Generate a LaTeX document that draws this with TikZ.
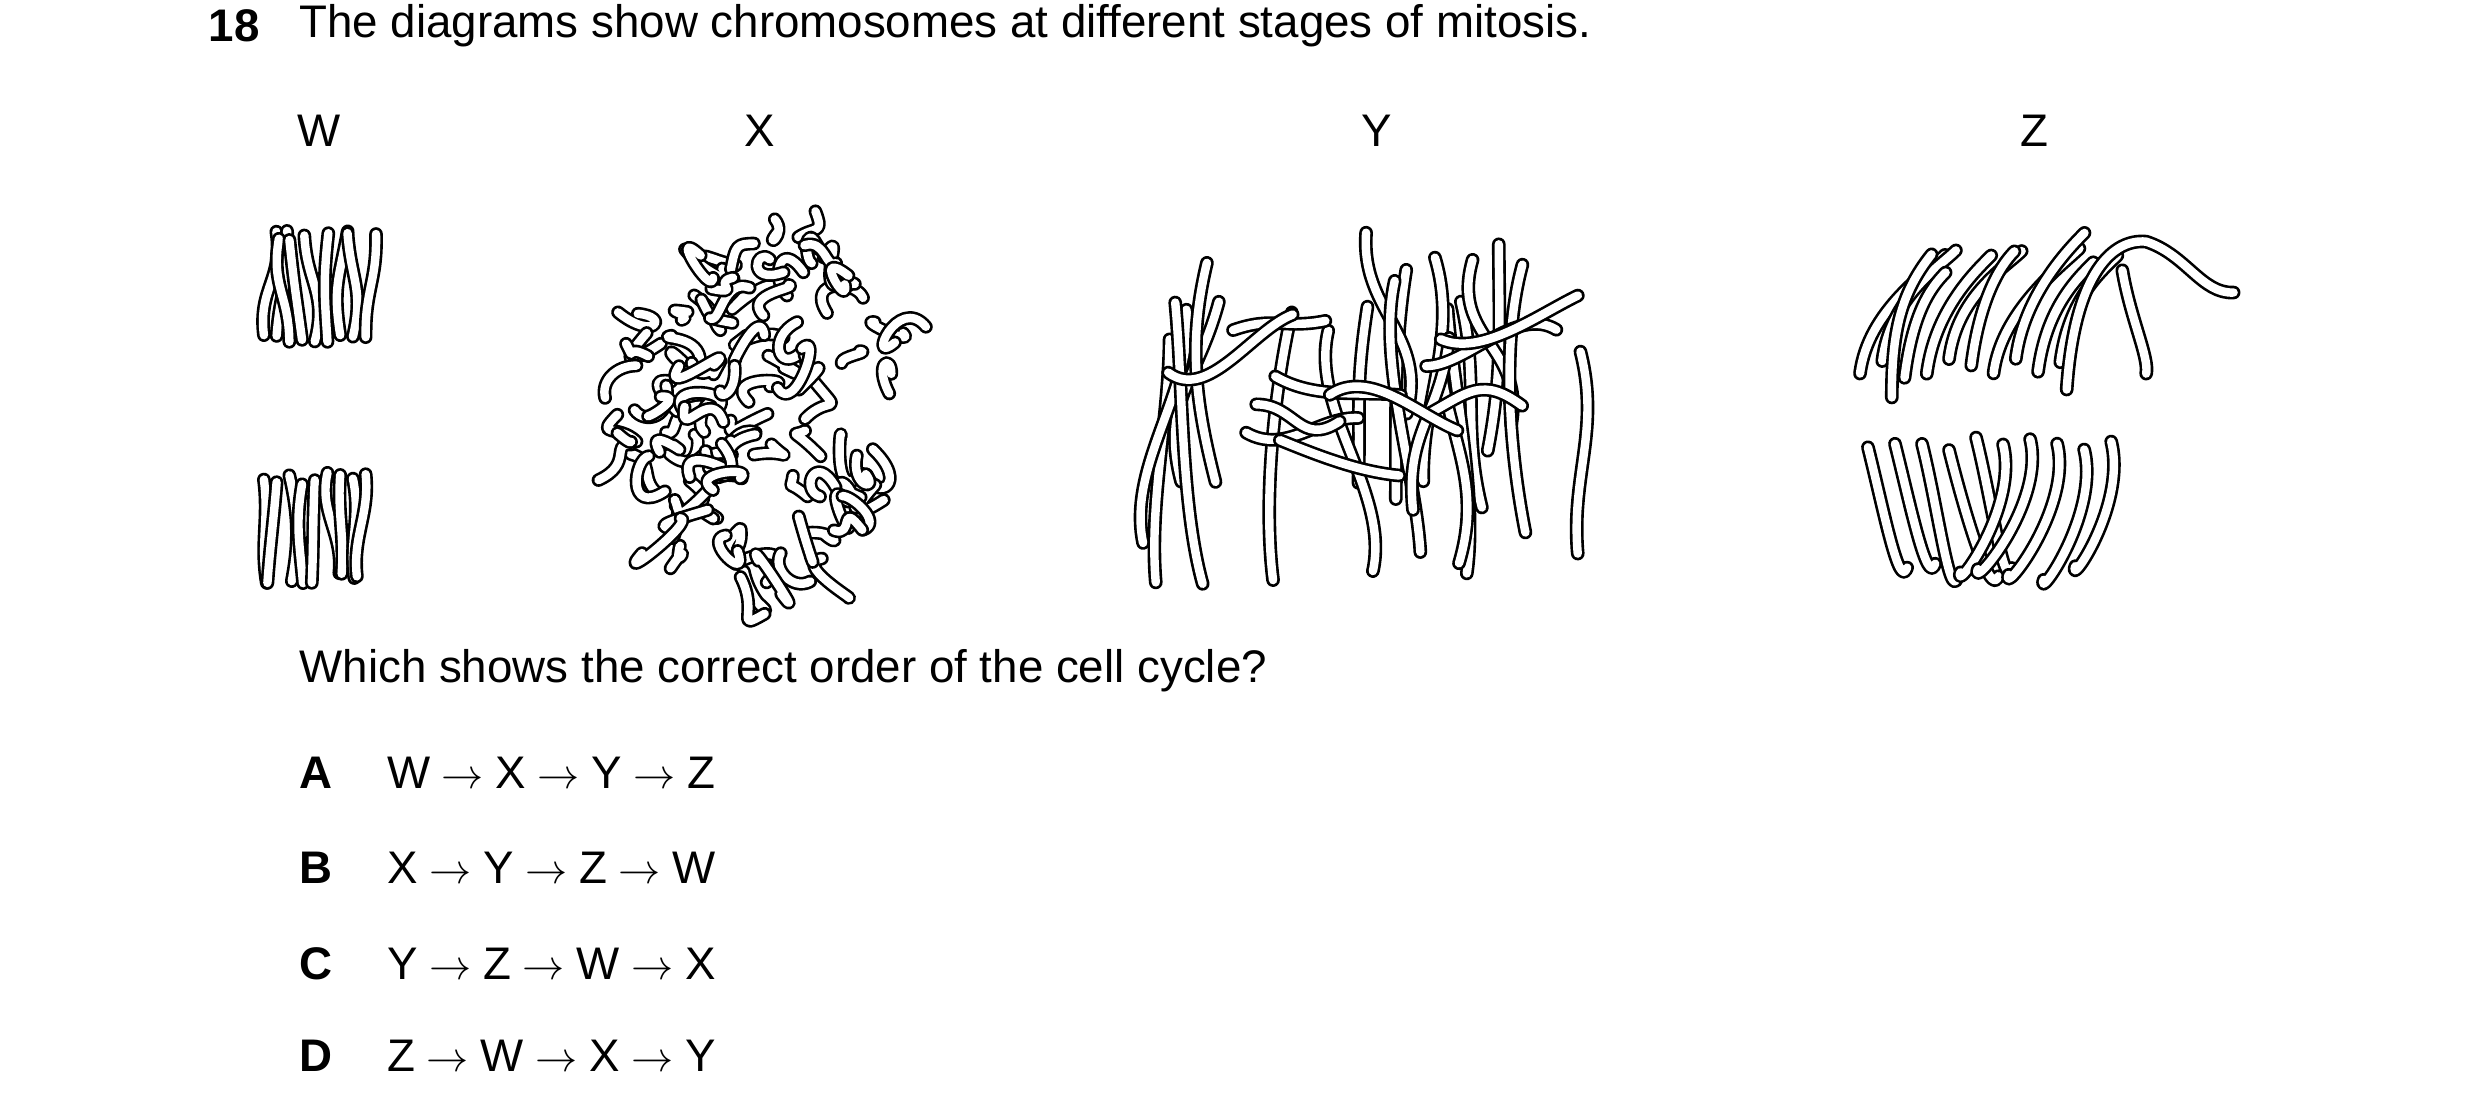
\documentclass[tikz,border=0pt]{standalone}
\usepackage{fontspec}
\setmainfont{Liberation Sans}
\usepackage{tikz}

\newcommand{\arr}{\ensuremath{\;\rightarrow\;}}

\begin{document}
\begin{tikzpicture}[x=0.0159cm, y=-0.0159cm,
    every node/.style={font=\fontsize{13}{15}\selectfont, inner sep=0pt},
    chrom/.style={draw=black, double=white, double distance=2.4pt, line width=0.75pt, line cap=round, line join=round}]
    \useasboundingbox (0,0) rectangle (1560,695);
    \pgfmathsetseed{7}
    % texts
    \node (num) [anchor=west] at (131,16) {\textbf{18}};
    \node (title) [anchor=west] at (188,16) {The diagrams show chromosomes at different stages of mitosis.};
    \node (w) at (201,82) {W};
    \node (x) at (478,82) {X};
    \node (y) at (866,82) {Y};
    \node (z) at (1280,82) {Z};
    \node (ask) [anchor=west] at (188,422) {Which shows the correct order of the cell cycle?};
    \node (a) [anchor=west] at (188,486) {\textbf{A}};
    \node (b) [anchor=west] at (188,546) {\textbf{B}};
    \node (c) [anchor=west] at (188,606) {\textbf{C}};
    \node (d) [anchor=west] at (188,664) {\textbf{D}};
    \node (ta) [anchor=west] at (243,486) {W\arr X\arr Y\arr Z};
    \node (tb) [anchor=west] at (243,546) {X\arr Y\arr Z\arr W};
    \node (tc) [anchor=west] at (243,606) {Y\arr Z\arr W\arr X};
    \node (td) [anchor=west] at (243,664) {Z\arr W\arr X\arr Y};
    % W
    \foreach \i in {0,...,8} {
        \pgfmathsetmacro{\px}{166+\i*8}
        \draw[chrom] (\px,{210+6*rnd}) .. controls +({8*rand},-30) and +({6*rand},30) .. +({8*rand},{-70+8*rnd});
        \draw[chrom] (\px,{297+8*rnd}) .. controls +({6*rand},25) and +({6*rand},-25) .. +({8*rand},{62+5*rnd});
    }
    % X
    \foreach \i in {1,...,95} {
        \pgfmathsetmacro{\ang}{360*rnd}
        \pgfmathsetmacro{\rad}{90*sqrt(rnd)}
        \draw[chrom] ({478+\rad*cos(\ang)},{252+1.25*\rad*sin(\ang)}) .. controls +({25*rand},{25*rand}) and +({25*rand},{25*rand}) .. +({25*rand},{25*rand});
    }
    % Y
    \foreach \i in {1,...,20} {
        \pgfmathsetmacro{\px}{730+270*rnd}
        \pgfmathsetmacro{\py}{140+90*rnd}
        \draw[chrom] (\px,\py) .. controls +({15*rand},50) and +({15*rand},-50) .. +({30*rand},{90+90*rnd});
    }
    \foreach \i in {1,...,10} {
        \pgfmathsetmacro{\px}{730+230*rnd}
        \pgfmathsetmacro{\py}{200+80*rnd}
        \draw[chrom] (\px,\py) .. controls +(25,{20*rand}) and +(-25,{20*rand}) .. +({50+40*rnd},{40*rand});
    }
    % Z
    \foreach \i in {0,...,9} {
        \pgfmathsetmacro{\px}{1170+\i*14}
        \draw[chrom] (\px,{225+15*rnd}) .. controls +(5,-40) and +(-10,10) .. +({25+30*rnd},{-80+15*rnd});
        \pgfmathsetmacro{\qx}{1175+\i*17}
        \draw[chrom] (\qx,{275+10*rnd}) .. controls +(10,40) and +(-5,15) .. +({({\i<5}?1:-1)*(15+20*rnd)},{75+10*rnd});
    }
    \draw[chrom] (1300,245) .. controls (1305,170) and (1330,150) .. (1350,152) .. controls (1375,160) and (1385,185) .. (1405,184);
    \draw[chrom] (1335,170) .. controls (1340,200) and (1352,225) .. (1350,235);
    \draw[chrom] (1190,250) .. controls (1190,210) and (1195,185) .. (1215,160);
\end{tikzpicture}
\end{document}
